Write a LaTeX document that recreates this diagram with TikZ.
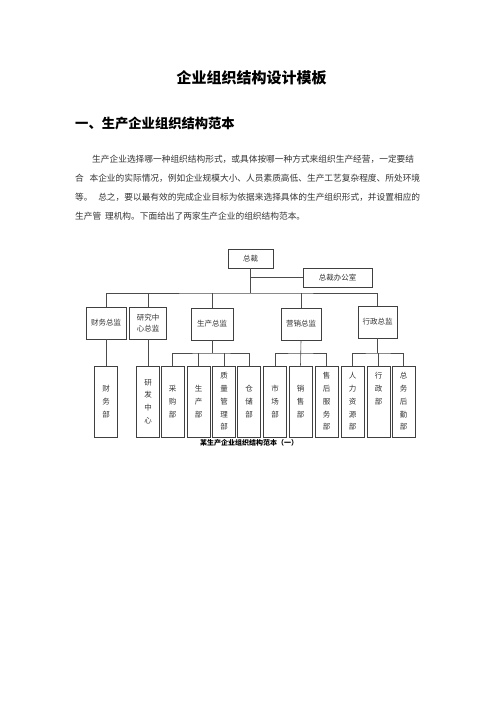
\documentclass[tikz,border=0pt]{standalone}
\usepackage{fontspec}
\newfontfamily\cjk{Noto Sans CJK SC}
\XeTeXlinebreaklocale "zh"
\XeTeXlinebreakskip=0pt plus 1pt
\tikzset{
    box/.style={draw=black!75, line width=0.7pt, inner sep=0pt, align=center,
        text=black!80, font=\cjk\fontsize{7.5}{11.3}\selectfont},
    topbox/.style={box, minimum width=45pt, minimum height=19pt},
    headbox/.style={box, minimum width=40pt, minimum height=32pt},
    deptbox/.style={box, minimum width=23pt, minimum height=71pt,
        font=\cjk\fontsize{7.5}{12.7}\selectfont},
    para/.style={anchor=west, inner sep=0pt, text=black!80,
        font=\cjk\fontsize{8.7}{8.7}\selectfont},
    link/.style={draw=black!70, line width=0.6pt}
}

\begin{document}
\begin{tikzpicture}[x=1pt, y=-1pt]

    \useasboundingbox[fill=white] (0,0) rectangle (496,702);

    % title and text
    \node[font=\cjk\bfseries\fontsize{15}{15}\selectfont] (title) at (251.5,78) {企业组织结构设计模板};
    \node[anchor=west, inner sep=0pt, font=\cjk\bfseries\fontsize{13.3}{13.3}\selectfont] (head) at (75,123) {一、生产企业组织结构范本};

    \node[para] (l1) at (92,159) {\makebox[328pt][s]{生产企业选择哪一种组织结构形式，或具体按哪一种方式来组织生产经营，一定要结}};
    \node[para] (l2) at (75,178) {\makebox[345pt][s]{合 本企业的实际情况，例如企业规模大小、人员素质高低、生产工艺复杂程度、所处环境}};
    \node[para] (l3) at (75,197) {\makebox[345pt][s]{等。 总之，要以最有效的完成企业目标为依据来选择具体的生产组织形式，并设置相应的}};
    \node[para] (l4) at (75,216) {\makebox[230pt][s]{生产管 理机构。下面给出了两家生产企业的组织结构范本。}};

    % top
    \node[topbox] (ceo) at (250.5,258.5) {总裁};
    \node[topbox, minimum width=69pt] (office) at (337.5,277.5) {总裁办公室};

    % directors
    \node[headbox] (fin) at (106,323) {财务总监};
    \node[headbox, minimum width=37pt] (rnd) at (148,323) {研究中\\心总监};
    \node[headbox, minimum width=42pt] (prod) at (212,324) {生产总监};
    \node[headbox] (sales) at (301,324) {营销总监};
    \node[headbox, minimum width=39pt] (admin) at (377.5,322) {行政总监};

    % departments
    \node[deptbox] (findep) at (106,401.5) {财\\务\\部};
    \node[deptbox] (center) at (148,401.5) {研\\发\\中\\心};
    \node[deptbox] (buy) at (172.5,401.5) {采\\购\\部};
    \node[deptbox] (make) at (198.5,401.5) {生\\产\\部};
    \node[deptbox] (qual) at (224,401.5) {质\\量\\管\\理\\部};
    \node[deptbox] (store) at (249,401.5) {仓\\储\\部};
    \node[deptbox] (market) at (275,401.5) {市\\场\\部};
    \node[deptbox] (sell) at (300.5,401.5) {销\\售\\部};
    \node[deptbox] (service) at (326.5,401.5) {售\\后\\服\\务\\部};
    \node[deptbox] (hr) at (352.5,401.5) {人\\力\\资\\源\\部};
    \node[deptbox] (admdep) at (378.5,401.5) {行\\政\\部\\\phantom{部}\\\phantom{部}};
    \node[deptbox] (general) at (403.5,401.5) {总\\务\\后\\勤\\部};

    \node[font=\cjk\bfseries\fontsize{7}{7}\selectfont] (caption) at (249,443) {某生产企业组织结构范本（一）};

    % connectors
    \coordinate (bus) at (0,293);
    \coordinate (sub) at (0,353);

    \draw[link] (ceo.south) -- (ceo.south |- bus);
    \draw[link] (ceo.south |- office.west) -- (office.west);
    \draw[link] (fin.north) |- (ceo.south |- bus) -| (admin.north);
    \foreach \n in {rnd, prod, sales}
        \draw[link] (\n.north) -- (\n.north |- bus);

    \draw[link] (fin.south) -- (findep.north);
    \draw[link] (rnd.south) -- (center.north);

    \draw[link] (prod.south) -- (prod.south |- sub);
    \draw[link] (buy.north) |- (prod.south |- sub) -| (store.north);
    \foreach \n in {make, qual}
        \draw[link] (\n.north) -- (\n.north |- sub);

    \draw[link] (sales.south) -- (sell.north);
    \draw[link] (market.north) |- (sell.north |- sub) -| (service.north);

    \draw[link] (admin.south) -- (admin.south |- sub);
    \draw[link] (hr.north) |- (admdep.north |- sub) -| (general.north);
    \draw[link] (admdep.north) -- (admdep.north |- sub);

\end{tikzpicture}
\end{document}
